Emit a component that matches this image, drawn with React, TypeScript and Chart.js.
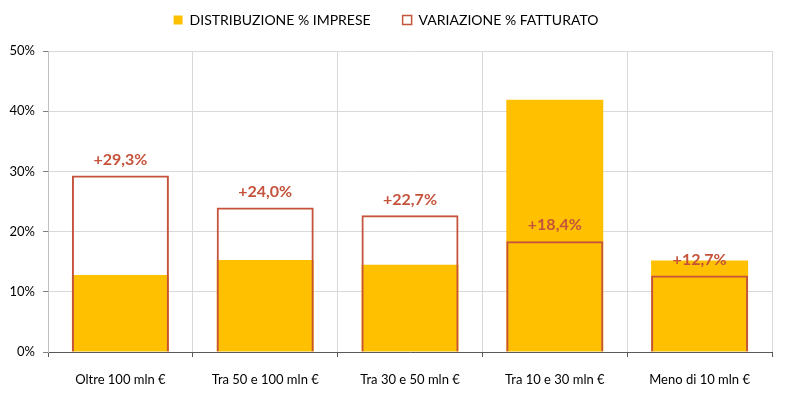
import React, { useEffect, useRef } from "react";
import { Chart, registerables } from "chart.js";

Chart.register(...registerables);

const categories = ["Oltre 100 mln €", "Tra 50 e 100 mln €", "Tra 30 e 50 mln €", "Tra 10 e 30 mln €", "Meno di 10 mln €"];
const distribuzioneImprese = [12.8, 15.3, 14.5, 41.9, 15.2];
const variazioneFatturato = [29.3, 24.0, 22.7, 18.4, 12.7];
const variazioneLabels = ["+29,3%", "+24,0%", "+22,7%", "+18,4%", "+12,7%"];
const yTicks = [0, 10, 20, 30, 40, 50];

const FONT = "Lato, 'Open Sans', sans-serif";
const RED = "#c5533c";
const ORANGE = "#ffc000";

const labelPlugin = {
  id: "barLabels",
  afterLayout(chart: any) {
    if (chart.legend) {
      chart.legend.top -= 14;
      chart.legend.bottom -= 14;
    }
  },
  afterDatasetsDraw(chart: any) {
    const meta = chart.getDatasetMeta(1);
    const ctx = chart.ctx;
    ctx.save();
    ctx.font = `bold 16px ${FONT}`;
    ctx.fillStyle = RED;
    ctx.textAlign = "center";
    ctx.textBaseline = "bottom";
    meta.data.forEach((el: any, i: number) => {
      ctx.fillText(variazioneLabels[i], el.x, el.y - 8);
    });
    ctx.restore();
  },
};

export default function App() {
  const ref = useRef<HTMLCanvasElement>(null);
  useEffect(() => {
    document.body.style.margin = "0";
    const chart = new Chart(ref.current!, {
      type: "bar",
      data: {
        labels: categories,
        datasets: [
          {
            label: "DISTRIBUZIONE % IMPRESE",
            data: distribuzioneImprese,
            backgroundColor: ORANGE,
            borderWidth: 0,
            order: 1,
          },
          {
            label: "VARIAZIONE % FATTURATO",
            data: variazioneFatturato,
            backgroundColor: "rgba(255,255,255,0)",
            borderColor: RED,
            borderWidth: 2,
            order: 0,
          },
        ],
      },
      options: {
        animation: false,
        responsive: true,
        maintainAspectRatio: false,
        layout: { padding: { top: -5, right: 16, left: 0, bottom: 0 } },
        datasets: { bar: { categoryPercentage: 1, barPercentage: 0.67 } },
        plugins: {
          tooltip: { enabled: false },
          legend: {
            position: "top",
            labels: {
              font: { family: FONT, size: 14 },
              color: "#000",
              boxWidth: 9,
              boxHeight: 9,
              padding: 32,
              generateLabels: (chart: any) =>
                chart.data.datasets.map((ds: any, i: number) => ({
                  text: ds.label,
                  fillStyle: i === 0 ? ORANGE : "#ffffff",
                  strokeStyle: i === 0 ? ORANGE : RED,
                  lineWidth: i === 0 ? 0 : 1.5,
                  datasetIndex: i,
                  hidden: false,
                  fontColor: "#000",
                })),
            },
          },
        },
        scales: {
          x: {
            stacked: true,
            grid: { color: "#d9d9d9", tickColor: "#595959", tickLength: 5, offset: true },
            border: { color: "#595959", width: 1 },
            ticks: { font: { family: FONT, size: 13 }, color: "#000", padding: 15 },
            afterFit: (s: any) => { s.height = 46; },
          },
          y: {
            min: 0,
            max: 50,
            afterBuildTicks: (s: any) => { s.ticks = yTicks.map((v) => ({ value: v })); },
            grid: { color: "#d9d9d9", tickColor: "#7f7f7f", tickLength: 5 },
            border: { color: "#bfbfbf", width: 1 },
            ticks: {
              font: { family: FONT, size: 13 },
              color: "#000",
              padding: 8,
              callback: (v: any) => v + "%",
            },
            afterFit: (s: any) => { s.width = 48; },
          },
        },
      },
      plugins: [labelPlugin],
    });
    return () => chart.destroy();
  }, []);
  return (
    <div style={{ width: 788, height: 398, position: "relative" }}>
      <canvas ref={ref} />
    </div>
  );
}
